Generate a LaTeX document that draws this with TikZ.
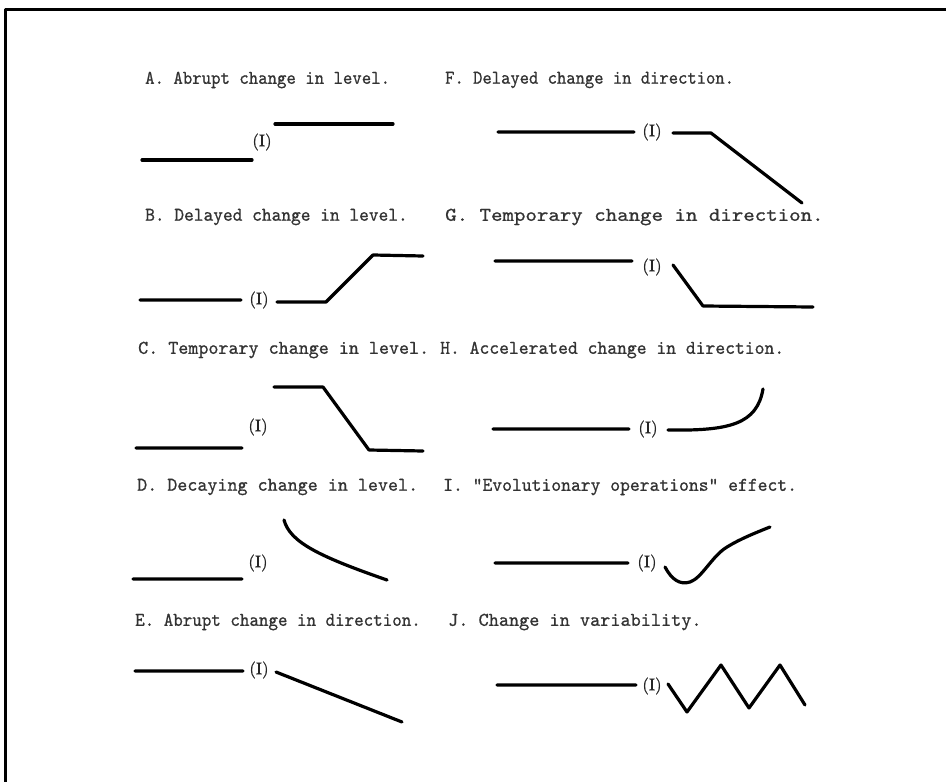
\documentclass[tikz,border=0pt]{standalone}
\usepackage{fontspec}
\newfontfamily\typer[FakeBold=0.8]{lmmono10-regular.otf}
\newfontfamily\ifont[FakeBold=0.6]{lmroman10-regular.otf}
\newcommand\lab[2]{\scalebox{#1}[1]{#2}}
\tikzset{
  lbl/.style={anchor=west,inner sep=0pt,text=black!80,
              font=\typer\fontsize{19.5}{22}\selectfont},
  ipt/.style={inner sep=0pt,text=black!85,font=\ifont\fontsize{17}{19}\selectfont},
  crv/.style={line width=3.2pt},
  every picture/.style={line cap=round,line join=round}}
\begin{document}
\begin{tikzpicture}[x=1pt,y=-1pt]
  \useasboundingbox (0,0) rectangle (946,782);
  \coordinate (fb) at (5,782); \coordinate (fl) at (5,9); \coordinate (fr) at (946,9);
  \draw[line width=3pt,line cap=butt] (fb)--(fl)--(fr);
  % left column
  \node[lbl] (la) at (145,80){\lab{0.92}{A. Abrupt change in level.}};
  \coordinate (a1) at (142,160); \coordinate (a2) at (252,160);
  \node[ipt] (ia) at (262,142){(I)};
  \coordinate (a3) at (275,124); \coordinate (a4) at (393,124);
  \draw[crv] (a1)--(a2) (a3)--(a4);

  \node[lbl] (lb) at (145,217){\lab{0.95}{B. Delayed change in level.}};
  \coordinate (b1) at (140,300); \coordinate (b2) at (241,300);
  \node[ipt] (ib) at (259,300){(I)};
  \coordinate (b3) at (277,302); \coordinate (b4) at (326,302);
  \coordinate (b5) at (373,255); \coordinate (b6) at (423,256);
  \draw[crv] (b1)--(b2) (b3)--(b4)--(b5)--(b6);

  \node[lbl] (lc) at (138,350){\lab{0.98}{C. Temporary change in level.}};
  \coordinate (c1) at (136,448); \coordinate (c2) at (242,448);
  \node[ipt] (ic) at (258,427){(I)};
  \coordinate (c3) at (274,387); \coordinate (c4) at (323,387);
  \coordinate (c5) at (369,450); \coordinate (c6) at (423,451);
  \draw[crv] (c1)--(c2) (c3)--(c4)--(c5)--(c6);

  \node[lbl] (ld) at (137,487){\lab{0.98}{D. Decaying change in level.}};
  \coordinate (d1) at (133,579); \coordinate (d2) at (242,579);
  \node[ipt] (id) at (258,563){(I)};
  \coordinate (d3) at (284,520); \coordinate (d4) at (387,580);
  \draw[crv] (d1)--(d2) (d3) .. controls (290,542) and (318,556) .. (d4);

  \node[lbl] (le) at (135,622){\lab{0.93}{E. Abrupt change in direction.}};
  \coordinate (e1) at (135,671); \coordinate (e2) at (243,671);
  \node[ipt] (ie) at (259,670){(I)};
  \coordinate (e3) at (276,672); \coordinate (e4) at (402,722);
  \draw[crv] (e1)--(e2) (e3)--(e4);
  % right column
  \node[lbl] (lf) at (445,80){\lab{0.91}{F. Delayed change in direction.}};
  \coordinate (f1) at (498,132); \coordinate (f2) at (634,132);
  \node[ipt] (if) at (652,132){(I)};
  \coordinate (f3) at (673,133); \coordinate (f4) at (711,133); \coordinate (f5) at (802,203);
  \draw[crv] (f1)--(f2) (f3)--(f4)--(f5);

  \node[lbl] (lg) at (445,217){\lab{1.12}{G. Temporary change in direction.}};
  \coordinate (g1) at (495,261); \coordinate (g2) at (632,261);
  \node[ipt] (ig) at (652,267){(I)};
  \coordinate (g3) at (673,265); \coordinate (g4) at (703,306); \coordinate (g5) at (813,307);
  \draw[crv] (g1)--(g2) (g3)--(g4)--(g5);

  \node[lbl] (lh) at (440,350){\lab{0.96}{H. Accelerated change in direction.}};
  \coordinate (h1) at (493,429); \coordinate (h2) at (629,429);
  \node[ipt] (ih) at (648,429){(I)};
  \coordinate (h3) at (668,430); \coordinate (h4) at (763,389);
  \draw[crv] (h1)--(h2) (h3) .. controls (730,431) and (757,424) .. (h4);

  \node[lbl] (li) at (443,487){\lab{0.96}{I. "Evolutionary operations" effect.}};
  \coordinate (i1) at (495,563); \coordinate (i2) at (628,563);
  \node[ipt] (ii) at (647,563){(I)};
  \coordinate (i3) at (665,567); \coordinate (i4) at (690,582);
  \coordinate (i5) at (727,547); \coordinate (i6) at (770,527);
  \draw[crv] (i1)--(i2) (i3) .. controls (672,580) and (680,585) .. (i4)
    .. controls (702,578) and (712,556) .. (i5) .. controls (740,539) and (755,533) .. (i6);

  \node[lbl] (lj) at (448,622){\lab{0.99}{J. Change in variability.}};
  \coordinate (j1) at (497,685); \coordinate (j2) at (636,685);
  \node[ipt] (ij) at (652,686){(I)};
  \coordinate (j3) at (668,684); \coordinate (j4) at (687,712); \coordinate (j5) at (721,665);
  \coordinate (j6) at (749,708); \coordinate (j7) at (780,665); \coordinate (j8) at (805,705);
  \draw[crv] (j1)--(j2) (j3)--(j4)--(j5)--(j6)--(j7)--(j8);
\end{tikzpicture}
\end{document}
